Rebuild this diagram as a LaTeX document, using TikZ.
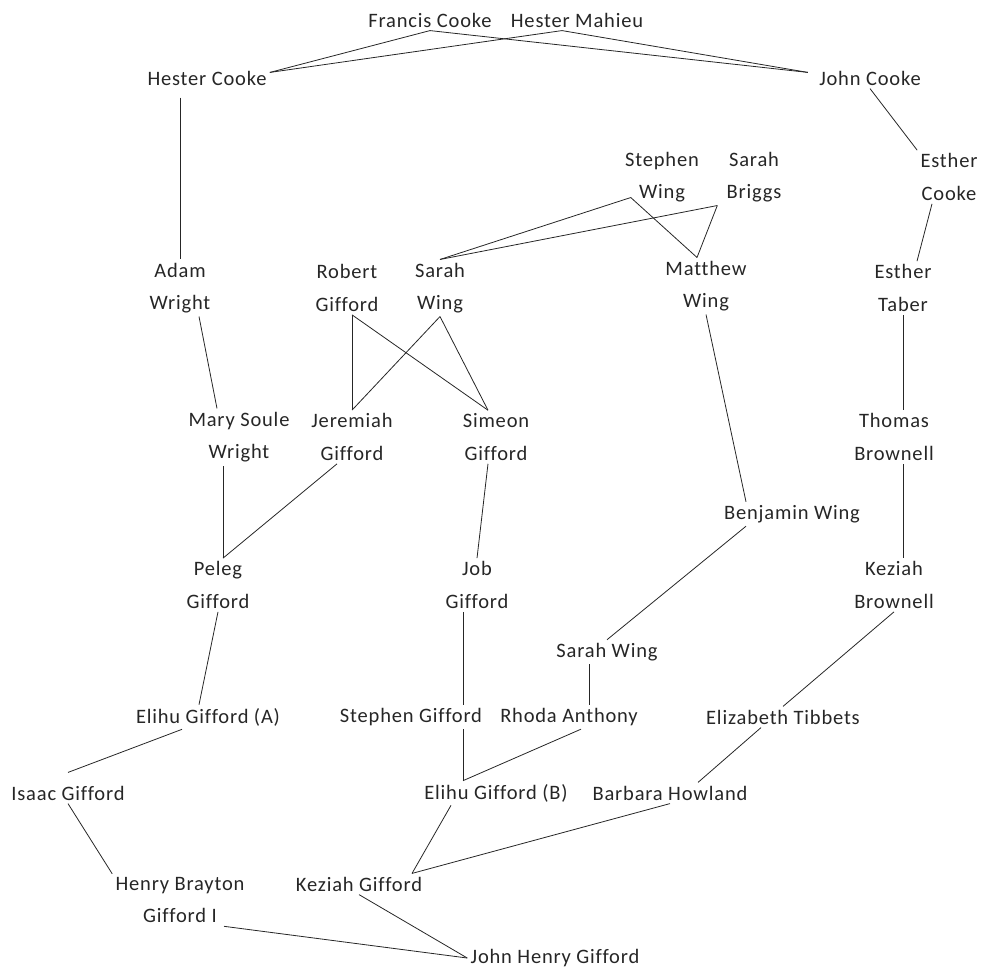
\documentclass[tikz,border=0pt]{standalone}
\usepackage{fontspec}
\setmainfont{Carlito}[LetterSpace=4, Ligatures=NoCommon]
\begin{document}
\begin{tikzpicture}[x=1pt, y=-1pt, line width=0.8pt, draw=black!85,
  every node/.style={font=\fontsize{20.5}{32.5}\selectfont, align=center, inner sep=3pt, text=black!85}]
	\useasboundingbox (0,0) rectangle (981,971);

	% Cooke
	\node (fc) at (430,20) {Francis Cooke};
	\node (hm) at (577,20) {Hester Mahieu};
	\node (hc) at (207,78) {Hester Cooke};
	\node (jc) at (870,78) {John Cooke};
	\node (ec) at (949,177) {Esther\\Cooke};
	\node (etb) at (903,288) {Esther\\Taber};
	\node (tb) at (894,437) {Thomas\\Brownell};
	\node (kb) at (894,585) {Keziah\\Brownell};
	\node (et) at (783,717) {Elizabeth Tibbets};
	\node (bh) at (670,793) {Barbara Howland};

	% Wing
	\node (stw) at (662,177) {Stephen\\Wing};
	\node (sb) at (754,177) {Sarah\\Briggs};
	\node (sw) at (440,288) {Sarah\\Wing};
	\node (mw) at (706,286) {Matthew\\Wing};
	\node (bw) at (792,514) {Benjamin Wing};
	\node (swb) at (607,652) {Sarah Wing};
	\node (ra) at (569,717) {Rhoda Anthony};

	% Gifford
	\node (aw) at (180,288) {Adam\\Wright};
	\node (rg) at (347,288) {Robert\\Gifford};
	\node (msw) at (239,437) {Mary Soule\\Wright};
	\node (jg) at (352,437) {Jeremiah\\Gifford};
	\node (sig) at (496,437) {Simeon\\Gifford};
	\node (pg) at (218,585) {Peleg\\Gifford};
	\node (jb) at (477,585) {Job\\Gifford};
	\node (ega) at (208,717) {Elihu Gifford (A)};
	\node (sg) at (411,717) {Stephen Gifford};
	\node (ig) at (68,793) {Isaac Gifford};
	\node (egb) at (496,793) {Elihu Gifford (B)};
	\node (hbg) at (180,900) {Henry Brayton\\Gifford I};
	\node (kg) at (359,884) {Keziah Gifford};
	\node (jhg) at (555,958) {John Henry Gifford};

	% junctions
	\coordinate (hmj) at ([xshift=-15pt]hm.south);
	\coordinate (hcj) at ([yshift=-5pt]hc.north east);
	\coordinate (jcj) at ([xshift=-8pt,yshift=-5pt]jc.north west);
	\coordinate (stwj) at ([xshift=9pt,yshift=8pt]stw.south west);
	\coordinate (sbj) at ([xshift=-6pt]sb.south west);
	\coordinate (mwj) at ([xshift=-9pt]mw.north);
	\coordinate (sigj) at ([xshift=-8pt]sig.north);
	\coordinate (pgj) at ([xshift=5pt]pg.north);
	\coordinate (egbj) at ([xshift=-33pt]egb.north);
	\coordinate (kgj) at ([xshift=53pt]kg.north);

	% Cooke lines
	\draw (fc.south) -- (hcj);
	\draw (fc.south) -- (jcj);
	\draw (hmj) -- (hcj);
	\draw (hmj) -- (jcj);
	\draw[shorten <=9pt] (hc.south -| aw.north) -- (aw.north);
	\draw (jc.south) -- (ec.north west);
	\draw ([xshift=-17pt]ec.south) -- ([xshift=14pt]etb.north);
	\draw (etb.south) -- (etb.south |- tb.north);
	\draw (tb.south -| etb.south) -- (kb.north -| etb.south);
	\draw (kb.south) -- (et.north);
	\draw ([xshift=-22pt]et.south) -- ([xshift=28pt]bh.north);
	\draw (bh.south) -- (kgj);

	% Wing lines
	\draw (stwj) -- (mwj);
	\draw (sbj) -- (mwj);
	\draw (stwj) -- (sw.north);
	\draw (sbj) -- (sw.north);
	\draw (mw.south) -- ([xshift=-46pt]bw.north);
	\draw ([xshift=-46pt]bw.south) -- (swb.north);
	\draw ([xshift=20pt]ra.north) -- ([xshift=20pt]ra.north |- swb.south);
	\draw ([xshift=12pt]ra.south) -- (egbj);

	% Gifford lines
	\draw ([xshift=19pt]aw.south) -- ([xshift=-22pt]msw.north);
	\draw (rg.south -| jg.north) -- (jg.north);
	\draw (rg.south -| jg.north) -- (sigj);
	\draw (sw.south) -- (jg.north);
	\draw (sw.south) -- (sigj);
	\draw (pgj) -- (pgj |- msw.south);
	\draw ([xshift=-15pt]jg.south) -- (pgj);
	\draw ([xshift=-8pt]sig.south) -- (jb.north);
	\draw ([xshift=-14pt]jb.south) -- ([xshift=-14pt]jb.south |- sg.north);
	\draw (egbj |- sg.south) -- (egbj);
	\draw (pg.south) -- ([xshift=-9pt]ega.north);
	\draw ([xshift=-26pt]ega.south) -- ([yshift=10pt]ig.north);
	\draw (ig.south) -- (hbg.north west);
	\draw ([xshift=-45pt]egb.south) -- (kgj);
	\draw (kg.south) -- (jhg.west);
	\draw ([xshift=44pt]hbg.south) -- (jhg.west);
\end{tikzpicture}
\end{document}
